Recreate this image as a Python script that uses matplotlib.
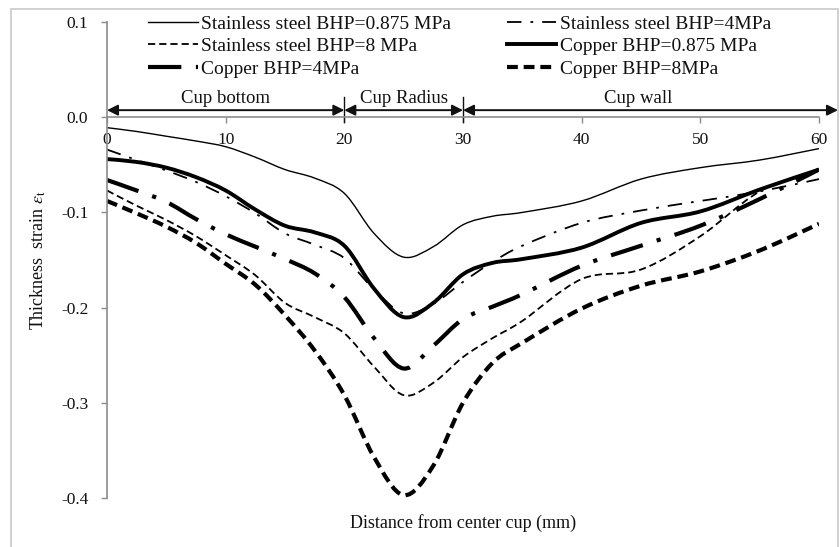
import matplotlib
matplotlib.use("Agg")
import matplotlib.pyplot as plt
import numpy as np
from matplotlib.path import Path
from matplotlib.patches import PathPatch, Rectangle
from matplotlib.lines import Line2D

plt.rcParams['font.family'] = ['Liberation Serif', 'DejaVu Serif']
plt.rcParams['mathtext.fontset'] = 'stix'

# ---- data ----
x_mm = [0, 2.5, 5, 7.5, 10, 12.5, 15, 17.5, 20, 22.5, 25, 27.5, 30, 32.5, 35, 40, 45, 50, 55, 60]
ss_0875 = [-0.011, -0.015, -0.020, -0.025, -0.031, -0.042, -0.055, -0.064, -0.080, -0.122,
           -0.147, -0.136, -0.113, -0.104, -0.100, -0.088, -0.065, -0.053, -0.045, -0.033]
ss_4 = [-0.034, -0.045, -0.056, -0.068, -0.083, -0.101, -0.122, -0.134, -0.148, -0.181,
        -0.206, -0.196, -0.173, -0.152, -0.135, -0.111, -0.098, -0.088, -0.078, -0.065]
ss_8 = [-0.077, -0.093, -0.108, -0.125, -0.145, -0.166, -0.195, -0.210, -0.227, -0.262,
        -0.292, -0.279, -0.252, -0.232, -0.214, -0.170, -0.160, -0.125, -0.078, -0.055]
cu_0875 = [-0.044, -0.047, -0.053, -0.063, -0.077, -0.097, -0.114, -0.121, -0.135, -0.180,
           -0.210, -0.195, -0.165, -0.153, -0.149, -0.137, -0.111, -0.099, -0.076, -0.055]
cu_4 = [-0.066, -0.077, -0.089, -0.107, -0.123, -0.136, -0.149, -0.164, -0.189, -0.232,
        -0.264, -0.240, -0.212, -0.199, -0.186, -0.156, -0.135, -0.114, -0.086, -0.055]
cu_8 = [-0.088, -0.101, -0.115, -0.132, -0.154, -0.176, -0.208, -0.245, -0.292, -0.357,
        -0.397, -0.366, -0.300, -0.258, -0.237, -0.201, -0.177, -0.162, -0.140, -0.112]

labels = ['Stainless steel BHP=0.875 MPa', 'Stainless steel BHP=4MPa',
          'Stainless steel BHP=8 MPa', 'Copper BHP=0.875 MPa',
          'Copper BHP=4MPa', 'Copper BHP=8MPa']
series = [ss_0875, ss_4, ss_8, cu_0875, cu_4, cu_8]

regions = ['Cup bottom', 'Cup Radius', 'Cup wall']
region_edges = [0, 20, 30, 61.6]

ytick_vals = [0.1, 0.0, -0.1, -0.2, -0.3, -0.4]
xtick_vals = [0, 10, 20, 30, 40, 50, 60]

# ---- styles ----
styles = [
    dict(lw=1.0, ls='-'),
    dict(lw=1.3, ls=(0, (8, 5, 1.5, 5))),
    dict(lw=1.3, ls=(0, (4, 2.2))),
    dict(lw=2.8, ls='-'),
    dict(lw=3.0, ls=(0, (8, 3.5, 1, 3.5))),
    dict(lw=3.0, ls=(0, (2.6, 1.4))),
]


def smooth_path(xs, ys):
    P = np.column_stack([xs, ys]).astype(float)
    n = len(P)
    verts = [P[0]]
    codes = [Path.MOVETO]
    for i in range(n - 1):
        p0 = P[i - 1] if i > 0 else P[i]
        p1 = P[i]
        p2 = P[i + 1]
        p3 = P[i + 2] if i + 2 < n else P[i + 1]
        c1 = p1 + (p2 - p0) / 6.0
        c2 = p2 - (p3 - p1) / 6.0
        verts += [c1, c2, p2]
        codes += [Path.CURVE4] * 3
    return Path(verts, codes)


W, H = 840, 547
fig = plt.figure(figsize=(W / 100, H / 100), dpi=100)
ax = fig.add_axes([107 / W, 1 - 498 / H, 712 / W, 476 / H])

# outer light border
fig.patches.append(Rectangle((11 / W, -0.02), (838 - 11) / W, 1 - 9 / H + 0.02,
                             transform=fig.transFigure, fill=False,
                             edgecolor='#c8c8c8', lw=1.2))

handles = []
for ys, lab, st in zip(series, labels, styles):
    patch = PathPatch(smooth_path(x_mm, ys), fill=False, edgecolor='black',
                      lw=st['lw'], linestyle=st['ls'], capstyle='butt')
    ax.add_patch(patch)
    handles.append(Line2D([], [], color='black', lw=st['lw'], linestyle=st['ls'],
                          label=lab))

ax.set_xlim(0, 60)
ax.set_ylim(-0.4, 0.1)

for s in ['top', 'right']:
    ax.spines[s].set_visible(False)
ax.spines['bottom'].set_position(('data', 0))
ax.spines['bottom'].set_color('#8c8c8c')
ax.spines['left'].set_color('#8c8c8c')
ax.spines['bottom'].set_linewidth(1.2)
ax.spines['left'].set_linewidth(1.2)

ax.set_xticks(xtick_vals)
ax.set_xticklabels([str(v) for v in xtick_vals])
ax.set_yticks(ytick_vals)
ax.set_yticklabels([f'{v:.1f}' for v in ytick_vals])
ax.tick_params(axis='x', direction='out', length=4, width=1, color='#8c8c8c',
               labelsize=12.5, pad=7, labelcolor='#111111')
ax.tick_params(axis='y', direction='out', length=4.5, width=1, color='#8c8c8c',
               labelsize=12.5, pad=9, labelcolor='#111111')

ax.set_ylabel(r'Thickness  strain $\varepsilon_{\mathrm{t}}$', fontsize=13,
              color='#111111')
ax.yaxis.set_label_coords(-0.083, 0.5)
ax.set_xlabel('Distance from center cup (mm)', fontsize=13, color='#111111')
ax.xaxis.set_label_coords(0.5, -0.034)

# region arrows
y_arrow = 0.0074
for i, name in enumerate(regions):
    x0, x1 = region_edges[i], region_edges[i + 1]
    ax.annotate('', xy=(x1, y_arrow), xytext=(x0, y_arrow),
                arrowprops=dict(arrowstyle='<|-|>', color='#111111', lw=1.4,
                                shrinkA=0, shrinkB=0, mutation_scale=16),
                annotation_clip=False)
    ax.text((x0 + x1) / 2 if i < 2 else 44.8, 0.0112, name, ha='center',
            va='bottom', fontsize=13.5, color='#111111', clip_on=False)
for xe in region_edges[1:3]:
    ax.plot([xe, xe], [-0.0053, 0.0210], color='#111111', lw=1.0, clip_on=False)

# legend: order so that rows read SS0.875 | SS4 ; SS8 | Cu0.875 ; Cu4 | Cu8
order = [0, 2, 4, 1, 3, 5]
leg = ax.legend([handles[i] for i in order], [labels[i] for i in order],
                ncol=2, loc='upper left', bbox_to_anchor=(148 / W, 1 - 15 / H),
                bbox_transform=fig.transFigure, frameon=False, fontsize=14,
                handlelength=2.55, handletextpad=0.2, columnspacing=2.85,
                labelspacing=0.26, borderaxespad=0, borderpad=0)
for t in leg.get_texts():
    t.set_color('#111111')

fig.savefig('out.png', dpi=100)
